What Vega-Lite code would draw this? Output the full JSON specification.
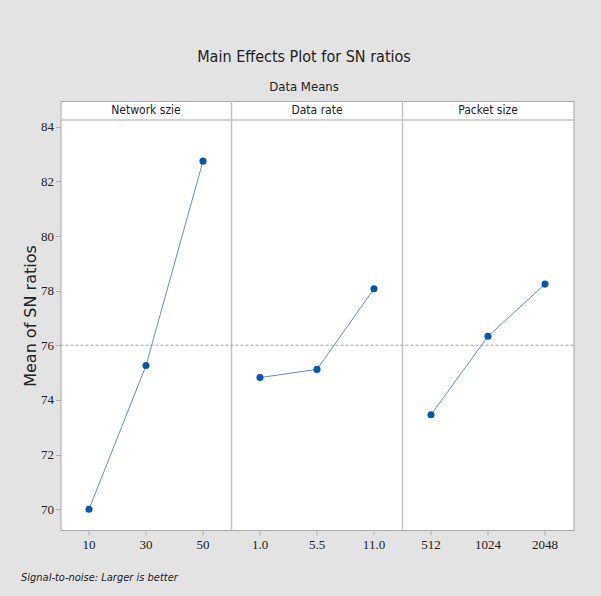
{
  "$schema": "https://vega.github.io/schema/vega-lite/v6.json",
  "width": 513,
  "height": 429,
  "autosize": {"type": "none"},
  "padding": {"left": 60.5, "top": 101, "right": 27.5, "bottom": 66},
  "background": "#e3e3e3",
  "config": {
    "view": {"fill": "white", "stroke": "#a8a8a8", "strokeWidth": 1}
  },
  "title": {
    "text": "Main Effects Plot for SN ratios",
    "subtitle": "Data Means",
    "anchor": "middle",
    "dx": -13,
    "offset": 6,
    "font": "DejaVu Sans Condensed",
    "fontSize": 16,
    "fontWeight": "normal",
    "color": "#222222",
    "subtitleFont": "DejaVu Sans Condensed",
    "subtitleFontSize": 13,
    "subtitleColor": "#222222",
    "subtitlePadding": 16
  },
  "data": {
    "values": [
      {"factor": "Network szie", "level": "10", "mean": 70.0},
      {"factor": "Network szie", "level": "30", "mean": 75.26},
      {"factor": "Network szie", "level": "50", "mean": 82.74},
      {"factor": "Data rate", "level": "1.0", "mean": 74.82},
      {"factor": "Data rate", "level": "5.5", "mean": 75.12},
      {"factor": "Data rate", "level": "11.0", "mean": 78.07},
      {"factor": "Packet size", "level": "512", "mean": 73.46},
      {"factor": "Packet size", "level": "1024", "mean": 76.33},
      {"factor": "Packet size", "level": "2048", "mean": 78.24}
    ]
  },
  "layer": [
    {
      "transform": [{"filter": {"field": "level", "oneOf": ["50", "11.0"]}}],
      "mark": {"type": "rule", "color": "#c4c4c4", "strokeWidth": 1.5},
      "encoding": {
        "x": {"field": "level", "type": "nominal", "bandPosition": 1}
      }
    },
    {
      "transform": [{"aggregate": [{"op": "count", "as": "n"}]}],
      "mark": {"type": "rule", "color": "#c4c4c4", "strokeWidth": 1.5},
      "encoding": {"y": {"datum": 84.245, "type": "quantitative"}}
    },
    {
      "transform": [{"aggregate": [{"op": "mean", "field": "mean", "as": "grand"}]}],
      "mark": {"type": "rule", "color": "#a0a0a0", "strokeDash": [3, 2], "strokeWidth": 1},
      "encoding": {"y": {"field": "grand", "type": "quantitative"}}
    },
    {
      "mark": {"type": "line", "color": "#5a8fd0", "strokeWidth": 1},
      "encoding": {
        "x": {
          "field": "level",
          "type": "nominal",
          "sort": ["10", "30", "50", "1.0", "5.5", "11.0", "512", "1024", "2048"],
          "scale": {
            "type": "band",
            "domain": ["10", "30", "50", "1.0", "5.5", "11.0", "512", "1024", "2048"],
            "paddingInner": 0,
            "paddingOuter": 0
          },
          "axis": {
            "title": "Signal-to-noise: Larger is better",
            "titleFont": "DejaVu Sans Condensed",
            "titleFontStyle": "italic",
            "titleFontWeight": "normal",
            "titleFontSize": 11,
            "titleColor": "#222222",
            "titleAnchor": "start",
            "titleAlign": "left",
            "titleBaseline": "middle",
            "titleX": -40,
            "titleY": 47,
            "labelAngle": 0,
            "labelAlign": "center",
            "labelBaseline": "top",
            "labelFont": "Liberation Serif",
            "labelFontSize": 13,
            "labelColor": "#222222",
            "labelPadding": 3,
            "tickColor": "#b0b0b0",
            "tickSize": 5,
            "ticks": true,
            "domain": false,
            "grid": false
          }
        },
        "y": {
          "field": "mean",
          "type": "quantitative",
          "scale": {"domain": [69.243, 84.94], "nice": false, "zero": false},
          "axis": {
            "values": [70, 72, 74, 76, 78, 80, 82, 84],
            "title": "Mean of SN ratios",
            "titleFont": "DejaVu Sans",
            "titleFontSize": 16,
            "titleFontWeight": "normal",
            "titleColor": "#222222",
            "titleX": -30,
            "titleY": 214.5,
            "titleAlign": "center",
            "titleBaseline": "middle",
            "labelFont": "Liberation Serif",
            "labelFontSize": 13,
            "labelColor": "#222222",
            "labelPadding": 2,
            "tickColor": "#b0b0b0",
            "tickSize": 5,
            "domain": false,
            "grid": false
          }
        },
        "detail": {"field": "factor"}
      }
    },
    {
      "mark": {"type": "point", "filled": true, "color": "#0a56a8", "size": 50, "opacity": 1},
      "encoding": {
        "x": {"field": "level", "type": "nominal"},
        "y": {"field": "mean", "type": "quantitative"}
      }
    },
    {
      "transform": [{"filter": {"field": "level", "oneOf": ["30", "5.5", "1024"]}}],
      "mark": {
        "type": "text",
        "font": "DejaVu Sans Condensed",
        "fontSize": 12,
        "color": "#222222",
        "baseline": "middle",
        "align": "center"
      },
      "encoding": {
        "x": {"field": "level", "type": "nominal"},
        "y": {"datum": 84.6, "type": "quantitative"},
        "text": {"field": "factor"}
      }
    }
  ]
}
